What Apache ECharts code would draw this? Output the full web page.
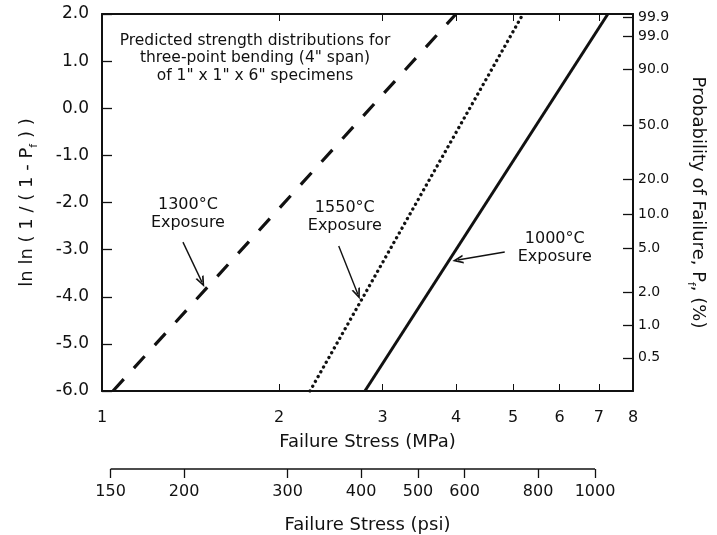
<!DOCTYPE html>
<html>
<head>
<meta charset="utf-8">
<script src="https://cdn.jsdelivr.net/npm/echarts@6/dist/echarts.min.js"></script>
<style>
  html, body { margin: 0; padding: 0; background: #fff; }
  #chart { width: 717px; height: 535px; }
</style>
</head>
<body>
<div id="chart"></div>
<script>
// Stress ticks along the lower axis (MPa)
const mpaTicks = [1, 2, 3, 4, 5, 6, 7, 8];
// The same stress scale expressed in psi
const psiTicks = [150, 200, 300, 400, 500, 600, 800, 1000];
// Probability-of-failure ticks (%) shown on the right-hand axis
const probTicks = [99.9, 99.0, 90.0, 50.0, 20.0, 10.0, 5.0, 2.0, 1.0, 0.5];

// Predicted Weibull lines: [failure stress (MPa), ln ln(1/(1-Pf))]
const exposure1300 = [[1.044, -6], [4.0, 2]];
const exposure1550 = [[2.258, -6], [5.20, 2]];
const exposure1000 = [[2.80, -6], [7.25, 2]];

const PSI_PER_MPA = 145.038;
const FONT = 'DejaVu Sans';
const INK = '#111';
const lg = Math.log10;
const toPlot = pts => pts.map(([s, y]) => [lg(s), y]);
const probToY = p => Math.log(-Math.log(1 - p / 100));
const probPos = probTicks.map(probToY);

// open chevron used as an arrow head
const CHEVRON = 'path://M0,12 L6,0 L12,12 L9.6,12 L6,4.8 L2.4,12 Z';

function arrow(from, to) {
  return {
    silent: true,
    animation: false,
    symbol: ['none', CHEVRON],
    symbolSize: [9, 11],
    lineStyle: { color: INK, width: 1.4, type: 'solid' },
    label: { show: false },
    emphasis: { disabled: true },
    data: [[{ coord: [lg(from[0]), from[1]] }, { coord: [lg(to[0]), to[1]] }]]
  };
}

function note(text, at) {
  return {
    silent: true,
    animation: false,
    symbol: 'circle',
    symbolSize: 1,
    itemStyle: { color: 'rgba(0,0,0,0)' },
    label: {
      show: true, position: 'inside', formatter: text,
      color: INK, fontFamily: FONT, fontSize: 16, lineHeight: 18
    },
    data: [{ coord: [lg(at[0]), at[1]] }]
  };
}

const frame = { show: true, onZero: false, lineStyle: { color: INK, width: 2 } };
const mpaLog = mpaTicks.map(lg);

const option = {
  animation: false,
  backgroundColor: '#fff',
  title: {
    text: 'Predicted strength distributions for\nthree-point bending (4" span)\nof 1" x 1" x 6" specimens',
    left: 250,
    top: 27,
    textAlign: 'center',
    textStyle: { fontFamily: FONT, fontSize: 15.5, fontWeight: 'normal', color: INK, lineHeight: 17.5 }
  },
  grid: [
    { left: 102, right: 84, top: 14, bottom: 144 },
    { left: 102, right: 84, top: 449, height: 20 }
  ],
  xAxis: [
    {
      gridIndex: 0, type: 'value', position: 'bottom',
      min: lg(mpaTicks[0]), max: lg(mpaTicks[mpaTicks.length - 1]),
      axisLine: frame,
      axisTick: { show: true, inside: true, length: 7, customValues: mpaLog, lineStyle: { color: INK, width: 1 } },
      axisLabel: {
        customValues: mpaLog, formatter: v => String(Math.round(Math.pow(10, v))),
        margin: 19, fontFamily: FONT, fontSize: 16, color: INK
      },
      splitLine: { show: false },
      name: 'Failure Stress (MPa)', nameLocation: 'middle', nameGap: 42,
      nameTextStyle: { fontFamily: FONT, fontSize: 18, color: INK }
    },
    {
      gridIndex: 0, type: 'value', position: 'top',
      min: lg(mpaTicks[0]), max: lg(mpaTicks[mpaTicks.length - 1]),
      axisLine: frame,
      axisTick: { show: true, inside: true, length: 7, customValues: mpaLog, lineStyle: { color: INK, width: 1 } },
      axisLabel: { show: false },
      splitLine: { show: false }
    },
    {
      gridIndex: 1, type: 'value', position: 'bottom',
      min: lg(mpaTicks[0] * PSI_PER_MPA), max: lg(mpaTicks[mpaTicks.length - 1] * PSI_PER_MPA),
      axisLine: { show: false, onZero: false },
      axisTick: { show: true, inside: false, length: 9, customValues: psiTicks.map(lg), lineStyle: { color: INK, width: 1.3 } },
      axisLabel: {
        customValues: psiTicks.map(lg), formatter: v => String(Math.round(Math.pow(10, v))),
        margin: 15, fontFamily: FONT, fontSize: 16, color: INK
      },
      splitLine: { show: false },
      name: 'Failure Stress (psi)', nameLocation: 'middle', nameGap: 47,
      nameTextStyle: { fontFamily: FONT, fontSize: 18, color: INK }
    }
  ],
  yAxis: [
    {
      gridIndex: 0, type: 'value', position: 'left',
      min: -6, max: 2, interval: 1,
      axisLine: frame,
      axisTick: { show: true, inside: true, length: 10, lineStyle: { color: INK, width: 1.3 } },
      axisLabel: { formatter: v => v.toFixed(1), margin: 13, fontFamily: FONT, fontSize: 17, color: INK },
      splitLine: { show: false },
      name: '{t|ln ln ( 1 / ( 1 - P}{s|f}{t| ) )}',
      nameLocation: 'middle', nameGap: 62, nameRotate: 90,
      nameTextStyle: {
        fontFamily: FONT, fontSize: 18, color: INK,
        rich: {
          t: { fontFamily: FONT, fontSize: 18, color: INK, lineHeight: 26, verticalAlign: 'middle' },
          s: { fontFamily: FONT, fontSize: 11, color: INK, lineHeight: 11, verticalAlign: 'bottom' }
        }
      }
    },
    {
      gridIndex: 0, type: 'value', position: 'right',
      min: -6, max: 2,
      axisLine: frame,
      axisTick: { show: true, inside: true, length: 10, customValues: probPos, lineStyle: { color: INK, width: 1.3 } },
      axisLabel: {
        customValues: probPos,
        formatter: v => {
          const i = probPos.findIndex(p => Math.abs(p - v) < 1e-6);
          return i >= 0 ? probTicks[i].toFixed(1) : '';
        },
        margin: 5, fontFamily: FONT, fontSize: 14, color: INK
      },
      splitLine: { show: false },
      name: '{t|Probability of Failure, P}{s|f}{t|, (%)}',
      nameLocation: 'middle', nameGap: 52, nameRotate: -90,
      nameTextStyle: {
        fontFamily: FONT, fontSize: 18, color: INK,
        rich: {
          t: { fontFamily: FONT, fontSize: 18, color: INK, lineHeight: 26, verticalAlign: 'middle' },
          s: { fontFamily: FONT, fontSize: 11, color: INK, lineHeight: 11, verticalAlign: 'bottom' }
        }
      }
    },
    { gridIndex: 1, type: 'value', min: 0, max: 1, show: false }
  ],
  series: [
    {
      name: '1300°C Exposure', type: 'line', xAxisIndex: 0, yAxisIndex: 0,
      data: toPlot(exposure1300), symbol: 'none', silent: true,
      lineStyle: { color: INK, width: 3.2, type: [16, 15] },
      markLine: arrow([1.373, -2.84], [1.479, -3.69]),
      markPoint: note('1300°C\nExposure', [1.400, -2.233])
    },
    {
      name: '1550°C Exposure', type: 'line', xAxisIndex: 0, yAxisIndex: 0,
      data: toPlot(exposure1550), symbol: 'none', silent: true,
      lineStyle: { color: INK, width: 3.3, type: [0.1, 5.4], cap: 'round' },
      markLine: arrow([2.527, -2.923], [2.723, -3.942]),
      markPoint: note('1550°C\nExposure', [2.588, -2.308])
    },
    {
      name: '1000°C Exposure', type: 'line', xAxisIndex: 0, yAxisIndex: 0,
      data: toPlot(exposure1000), symbol: 'none', silent: true,
      lineStyle: { color: INK, width: 3 },
      markLine: arrow([4.841, -3.05], [4.027, -3.22]),
      markPoint: note('1000°C\nExposure', [5.888, -2.966])
    },
    {
      // baseline of the psi scale, spanning its first to last tick
      type: 'line', xAxisIndex: 2, yAxisIndex: 2, silent: true, clip: false,
      data: [[lg(psiTicks[0]), 0], [lg(psiTicks[psiTicks.length - 1]), 0]],
      symbol: 'none', lineStyle: { color: INK, width: 1.5 }
    }
  ]
};

const chart = echarts.init(document.getElementById('chart'));
chart.setOption(option);
</script>
</body>
</html>
